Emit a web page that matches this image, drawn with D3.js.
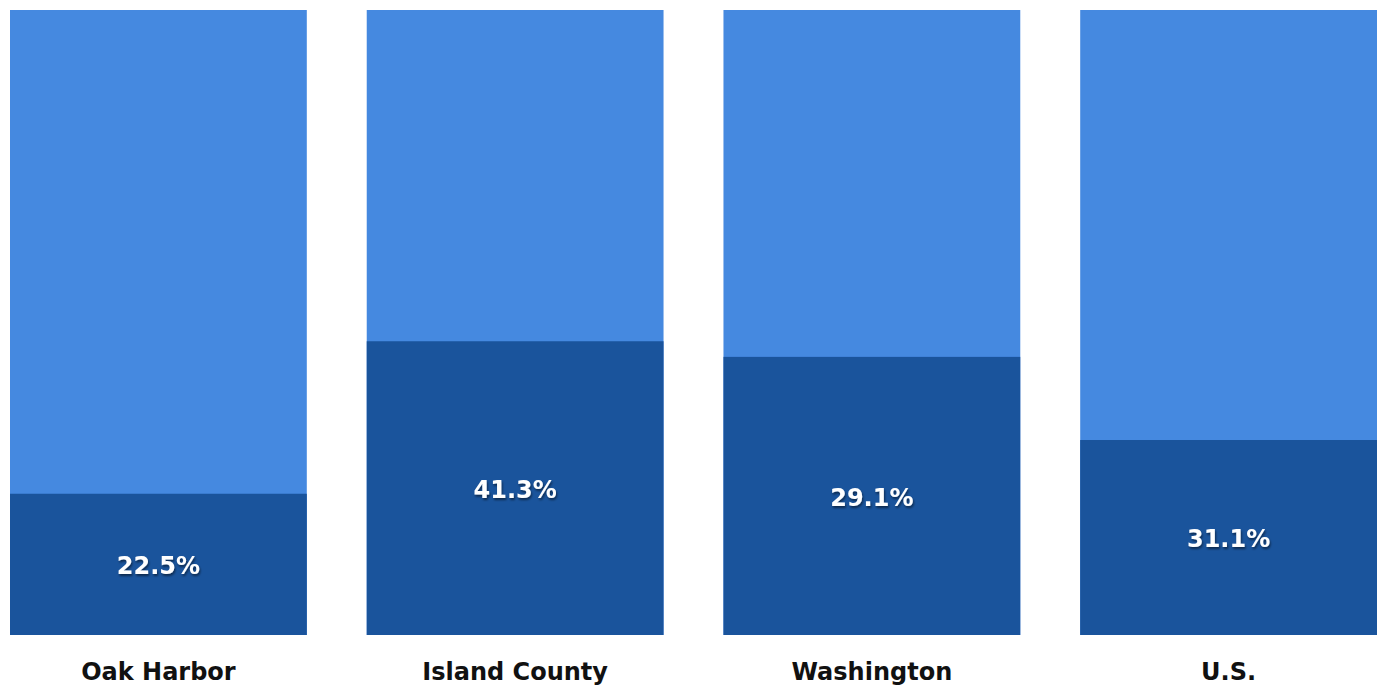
<!DOCTYPE html>
<html><head><meta charset="utf-8">
<script src="https://cdn.jsdelivr.net/npm/d3@7"></script>
<style>body{margin:0;background:#fff;}svg{display:block;}</style>
</head><body>
<svg id="c" width="1377" height="691"></svg>
<script>
const categories = ["Oak Harbor", "Island County", "Washington", "U.S."];
// share of the bar drawn dark
const darkShare = [22.6, 47.0, 44.5, 31.2];
// label text shown on the dark part
const labels = ["22.5%", "41.3%", "29.1%", "31.1%"];

const svg = d3.select("#c");
const x = d3.scaleBand().domain(categories).range([10, 1377]).paddingInner(0.168).paddingOuter(0);
const y = d3.scaleLinear().domain([0, 100]).range([635, 10]);

const defs = svg.append("defs");
const f = defs.append("filter").attr("id","sh").attr("x","-20%").attr("y","-20%").attr("width","140%").attr("height","160%");
f.append("feDropShadow").attr("dx",1).attr("dy",2).attr("stdDeviation",1.2).attr("flood-color","#000").attr("flood-opacity",0.5);

const g = svg.selectAll("g.bar").data(categories).enter().append("g");
g.append("rect").attr("x", d => x(d)).attr("width", x.bandwidth())
  .attr("y", y(100)).attr("height", y(0) - y(100)).attr("fill", "#4589E0");
g.append("rect").attr("x", d => x(d)).attr("width", x.bandwidth())
  .attr("y", (d,i) => y(darkShare[i])).attr("height", (d,i) => y(0) - y(darkShare[i])).attr("fill", "#1A549C");
g.append("text").attr("x", d => x(d) + x.bandwidth()/2)
  .attr("y", (d,i) => (y(darkShare[i]) + y(0))/2)
  .attr("dy","0.4em").attr("text-anchor","middle")
  .attr("font-family","DejaVu Sans, Verdana, sans-serif").attr("font-weight","bold").attr("font-size",24)
  .attr("fill","#fff").attr("filter","url(#sh)").text((d,i) => labels[i]);

const xAxis = svg.append("g").attr("transform","translate(0,635)")
  .call(d3.axisBottom(x).tickSize(0).tickPadding(28));
xAxis.select(".domain").remove();
xAxis.selectAll("text").attr("font-family","DejaVu Sans, Verdana, sans-serif").attr("font-weight","bold")
  .attr("font-size",24).attr("fill","#111");
</script>
</body></html>
